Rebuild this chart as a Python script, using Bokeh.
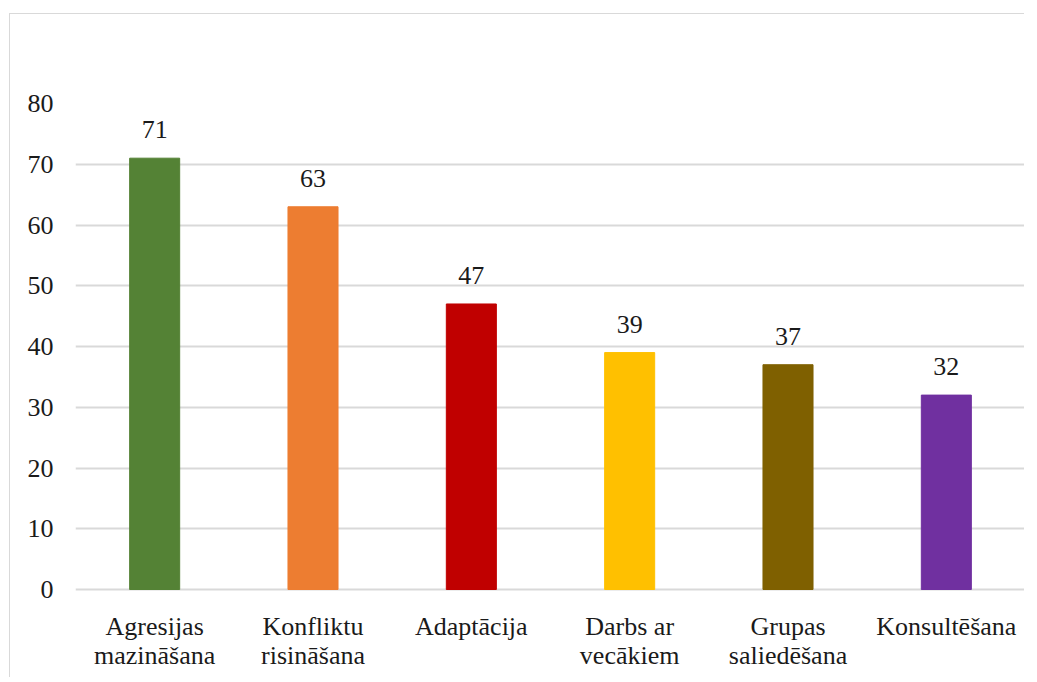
from bokeh.plotting import figure
from bokeh.models import ColumnDataSource, FactorRange, Range1d, FixedTicker, LabelSet
from bokeh.embed import file_html
from bokeh.resources import INLINE

categories = ["Agresijas\nmazināšana", "Konfliktu\nrisināšana", "Adaptācija",
              "Darbs ar\nvecākiem", "Grupas\nsaliedēšana", "Konsultēšana"]
values = [71, 63, 47, 39, 37, 32]
colors = ["#548235", "#ED7D31", "#C00000", "#FFC000", "#7F6000", "#7030A0"]
y_ticks = [0, 10, 20, 30, 40, 50, 60, 70, 80]

FONT = "Liberation Serif"

# layout (pixels)
W, H = 1015, 664
TOP, LEFT = 89, 65
PX_PER_UNIT = 486 / 80.0
frame_h = H - TOP
y_max = 80
y_min = y_max - frame_h / PX_PER_UNIT

line1 = [c.split("\n")[0] for c in categories]
line2 = [c.split("\n")[1] if "\n" in c else "" for c in categories]

src = ColumnDataSource(dict(cat=categories, val=values, col=colors,
                            lab=[str(v) for v in values],
                            l1=line1, l2=line2,
                            zero=[0] * len(values)))

p = figure(x_range=FactorRange(*categories), y_range=Range1d(y_min, y_max),
           width=W, height=H, output_backend="svg", toolbar_location=None,
           min_border_left=LEFT, min_border_right=0, min_border_top=TOP, min_border_bottom=0)
p.styles = {"border-top": "1px solid #d9d9d9", "border-left": "1px solid #d9d9d9",
            "margin-top": "13px", "margin-left": "9px"}
p.outline_line_color = None
p.background_fill_color = "white"
p.border_fill_color = "white"

p.vbar(x="cat", bottom=0, top="val", width=0.316, color="col", source=src)

labels = LabelSet(x="cat", y="val", text="lab", source=src, text_align="center",
                  text_baseline="bottom", y_offset=20, text_font=FONT,
                  text_font_size="26px", text_color="#1a1a1a")
p.add_layout(labels)

cat1 = LabelSet(x="cat", y="zero", text="l1", source=src, text_align="center",
                text_baseline="alphabetic", y_offset=-45, text_font=FONT,
                text_font_size="26px", text_color="#1a1a1a")
cat2 = LabelSet(x="cat", y="zero", text="l2", source=src, text_align="center",
                text_baseline="alphabetic", y_offset=-74, text_font=FONT,
                text_font_size="26px", text_color="#1a1a1a")
p.add_layout(cat1)
p.add_layout(cat2)

p.xgrid.grid_line_color = None
p.ygrid.grid_line_color = "#d9d9d9"
p.ygrid.grid_line_width = 2
p.yaxis.ticker = FixedTicker(ticks=y_ticks)
p.xaxis.visible = False

ax = p.yaxis[0]
ax.axis_line_color = None
ax.major_tick_line_color = None
ax.minor_tick_line_color = None
ax.major_tick_out = 0
ax.major_tick_in = 0
ax.major_label_text_font = FONT
ax.major_label_text_font_size = "26px"
ax.major_label_text_color = "#1a1a1a"
ax.major_label_standoff = 22
p.x_range.range_padding = 0
p.x_range.group_padding = 0

open("out.html", "w").write(file_html(p, INLINE))
